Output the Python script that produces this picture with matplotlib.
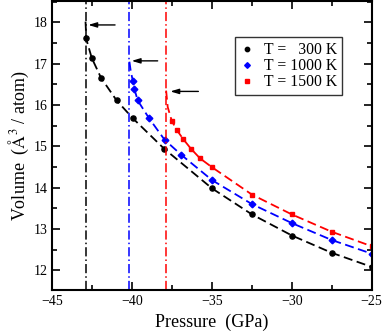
import matplotlib
matplotlib.use("Agg")
import matplotlib.pyplot as plt
from matplotlib.ticker import MultipleLocator

plt.rcParams['font.family'] = ['Liberation Serif', 'DejaVu Serif']
plt.rcParams['mathtext.fontset'] = 'stix'

# data
p_300 = [-42.90, -42.54, -41.96, -40.98, -39.97, -38.0, -35.0, -32.5, -30.0, -27.5, -25.0]
v_300 = [17.62, 17.14, 16.66, 16.11, 15.68, 14.94, 13.98, 13.35, 12.84, 12.42, 12.08]
p_1000 = [-39.97, -39.87, -39.66, -38.95, -37.98, -36.95, -35.0, -32.5, -30.0, -27.5, -25.0]
v_1000 = [16.59, 16.39, 16.11, 15.68, 15.16, 14.80, 14.18, 13.60, 13.14, 12.73, 12.40]
p_1500 = [-37.53, -37.22, -36.80, -36.32, -35.76, -35.03, -32.5, -30.0, -27.5, -25.0]
v_1500 = [15.62, 15.40, 15.17, 14.94, 14.71, 14.50, 13.83, 13.35, 12.93, 12.58]

# spinodal end of each fitted curve, and spinodal pressures
top_p = [-42.93, -40.18, -37.88]
top_v = [18.02, 17.05, 16.35]
mid_p = [-42.91, -40.10, -37.78]
mid_v = [17.85, 16.83, 15.95]
spin_p = [-42.92, -40.21, -37.90]
arrow_v = [17.94, 17.07, 16.33]
arrow_from = [-41.08, -38.41, -35.86]
arrow_to = [-42.76, -40.04, -37.62]

colors = ['black', 'blue', 'red']
labels = ['T =   300 K', 'T = 1000 K', 'T = 1500 K']
markers = ['o', 'D', 's']
msizes = [3.7, 3.4, 3.4]

fig = plt.figure(figsize=(3.82, 3.32), dpi=100)
ax = fig.add_axes([0.1374, 0.1265, 0.8356, 0.8705])

series = [(p_300, v_300), (p_1000, v_1000), (p_1500, v_1500)]
for i, (p, v) in enumerate(series):
    c = colors[i]
    ax.plot([top_p[i], mid_p[i]] + p, [top_v[i], mid_v[i]] + v, color=c,
            lw=1.3, dashes=(5, 2.5))
    ax.plot(p, v, ls='none', marker=markers[i], ms=msizes[i], color=c,
            mec=c, label=labels[i])
    ax.axvline(spin_p[i], color=c, lw=1.1, dashes=(6, 2, 1, 2))
    ax.annotate('', xy=(arrow_to[i], arrow_v[i]), xytext=(arrow_from[i], arrow_v[i]),
                arrowprops=dict(arrowstyle='-|>,head_length=0.5,head_width=0.15',
                                color='black', lw=1.0, shrinkA=0, shrinkB=0))

ax.set_xlim(-45, -25)
ax.set_ylim(11.52, 18.52)
ax.xaxis.set_major_locator(MultipleLocator(5))
ax.xaxis.set_minor_locator(MultipleLocator(2.5))
ax.yaxis.set_major_locator(MultipleLocator(1))
ax.yaxis.set_minor_locator(MultipleLocator(0.5))
ax.tick_params(which='both', direction='in', top=True, right=True, width=1.2,
               labelsize=10)
ax.tick_params(which='major', length=6)
ax.tick_params(which='minor', length=3.5)
for s in ax.spines.values():
    s.set_linewidth(1.5)

ax.set_xlabel('Pressure  (GPa)', fontsize=13, labelpad=4)
ax.set_ylabel('Volume  ($\\mathrm{\\AA^3}$ / atom)', fontsize=13, labelpad=2)

leg = ax.legend(loc='upper right', bbox_to_anchor=(0.908, 0.874), fontsize=11.3,
                frameon=True, fancybox=False, edgecolor='black', handlelength=1.0,
                handletextpad=0.6, borderpad=0.3, labelspacing=0.0,
                borderaxespad=0, markerscale=0.85)
leg.get_frame().set_linewidth(1.0)

fig.savefig('out.png', dpi=100)
